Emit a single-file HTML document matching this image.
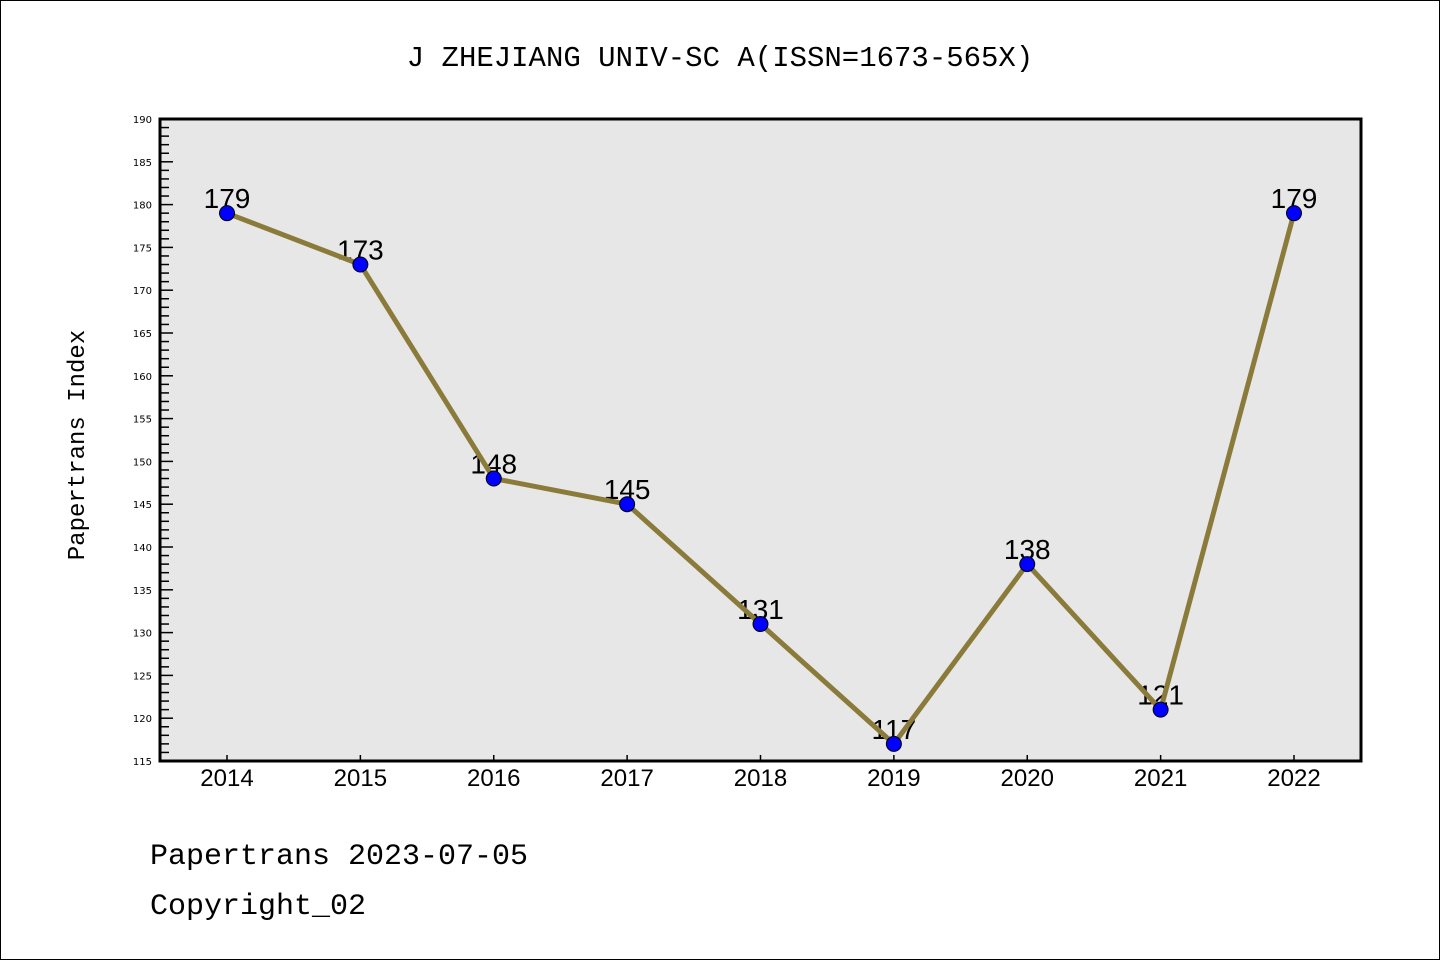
<!DOCTYPE html>
<html><head><meta charset="utf-8"><style>
html,body{margin:0;padding:0;background:#fff}
svg{display:block}
</style></head><body>
<svg width="1440" height="960" xmlns="http://www.w3.org/2000/svg">
<rect x="0.5" y="0.5" width="1439" height="959" fill="#fff" stroke="#000" stroke-width="1"/>
<text x="720" y="66" text-anchor="middle" font-family="Liberation Mono, monospace" font-size="29">J ZHEJIANG UNIV-SC A(ISSN=1673-565X)</text>
<rect x="160" y="119" width="1201" height="642" fill="#e7e7e7"/>
<g id="ticks"></g>
<g id="labels"></g>
<g id="series"></g>
<rect x="160" y="119" width="1201" height="642" fill="none" stroke="#000" stroke-width="3"/>
<text transform="translate(84,445) rotate(-90)" text-anchor="middle" font-family="Liberation Mono, monospace" font-size="24">Papertrans Index</text>
<text x="150" y="864" font-family="Liberation Mono, monospace" font-size="30">Papertrans 2023-07-05</text>
<text x="150" y="914" font-family="Liberation Mono, monospace" font-size="30">Copyright_02</text>
</svg>
<script>
const years = ["2014","2015","2016","2017","2018","2019","2020","2021","2022"];
const values = [179,173,148,145,131,117,138,121,179];
const yTicks = [115,120,125,130,135,140,145,150,155,160,165,170,175,180,185,190];
const NS="http://www.w3.org/2000/svg";
const x0=160,x1=1361,y0=119,y1=761,yMin=115,yMax=190;
function xs(i){return 227+i*(1294-227)/(years.length-1);}
function ys(v){return y1-(v-yMin)/(yMax-yMin)*(y1-y0);}
function mk(tag,attrs,parent){const e=document.createElementNS(NS,tag);for(const k in attrs)e.setAttribute(k,attrs[k]);parent.appendChild(e);return e;}
const tg=document.getElementById('ticks'),lg=document.getElementById('labels'),sg=document.getElementById('series');
for(let v=yMin;v<=yMax;v++){
  const major=(v%5===0);
  const t=mk('line',{x1:x0,x2:x0+(major?13:9),y1:ys(v),y2:ys(v),stroke:'#000','stroke-width':1.5},tg);
  
  
}
yTicks.forEach(v=>{
  const t=mk('text',{x:152,y:ys(v)+4,'text-anchor':'end','font-family':'DejaVu Sans, sans-serif','font-size':10},tg);
  t.textContent=v;
  
  
});
years.forEach((y,i)=>{
  const l=mk('line',{x1:xs(i),x2:xs(i),y1:y1,y2:y1-6,stroke:'#000','stroke-width':1.5},tg);
  
  
  const t=mk('text',{x:xs(i),y:786,'text-anchor':'middle','font-family':'Liberation Sans, sans-serif','font-size':24},tg);
  t.textContent=y;
  
  
});
values.forEach((v,i)=>{
  const t=mk('text',{x:xs(i),y:ys(v)-5,'text-anchor':'middle','font-family':'Liberation Sans, sans-serif','font-size':28},lg);
  t.textContent=v;
  
  
});
const pl=mk('polyline',{points:values.map((v,i)=>xs(i)+','+ys(v)).join(' '),fill:'none',stroke:'#8b7b3a','stroke-width':5,'stroke-linejoin':'round'},sg);


values.forEach((v,i)=>{
  const c=mk('circle',{cx:xs(i),cy:ys(v),r:7.5,fill:'#0000ff',stroke:'#000','stroke-width':1},sg);
  
  
});
</script>
</body></html>
